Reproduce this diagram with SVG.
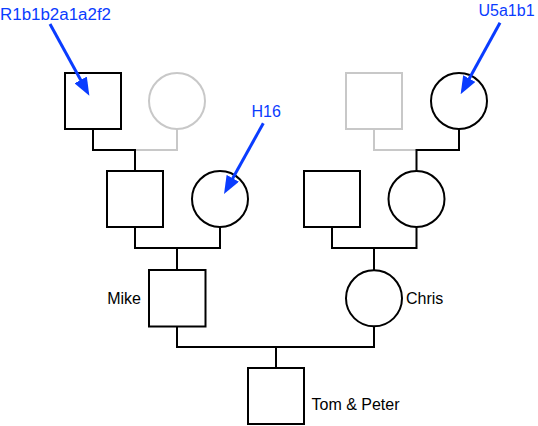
<svg xmlns="http://www.w3.org/2000/svg" width="538" height="426" viewBox="0 0 538 426">
<style>
.n{fill:#fff;stroke:#000;stroke-width:2}
.g{fill:#fff;stroke:#c8c8c8;stroke-width:2}
.c{fill:none;stroke:#000;stroke-width:2}
.cg{fill:none;stroke:#c8c8c8;stroke-width:2}
.lbl{font-family:"Liberation Sans",Arial,sans-serif;font-size:16px;fill:#000}
.hap{font-family:"Liberation Sans",Arial,sans-serif;font-size:16px;fill:#0a3cff}
.arr{stroke:#0a3cff;stroke-width:3;fill:none;marker-end:url(#ah)}
</style>
<defs>
<marker id="ah" viewBox="0 0 18 14" refX="10" refY="7" markerWidth="18" markerHeight="14" markerUnits="userSpaceOnUse" orient="auto">
<path d="M0,0 L18,7 L0,14 z" fill="#0a3cff"/>
</marker>
</defs>
<g id="connectors">
<path class="cg" d="M135 150 H177 V129"/>
<path class="c" d="M93 129 V150 H135 V171"/>
<path class="cg" d="M374 129 V150 H416.5"/>
<path class="c" d="M459 129 V150 H416.5 V171"/>
<path class="c" d="M135 227 V248 H220 V227 M177 248 V270"/>
<path class="c" d="M332 227 V248 H416.5 V227 M374 248 V270"/>
<path class="c" d="M177 326 V347 H374 V326 M276 347 V368"/>
</g>
<g id="ggf-paternal"><rect class="n" x="65" y="73" width="56" height="56"/></g>
<g id="ggm-paternal"><circle class="g" cx="177" cy="101" r="28"/></g>
<g id="ggf-maternal"><rect class="g" x="346" y="73" width="56" height="56"/></g>
<g id="ggm-maternal"><circle class="n" cx="459" cy="101" r="28"/></g>
<g id="gf-mike"><rect class="n" x="107" y="171" width="56" height="56"/></g>
<g id="gm-mike"><circle class="n" cx="220" cy="199" r="28"/></g>
<g id="gf-chris"><rect class="n" x="304" y="171" width="56" height="56"/></g>
<g id="gm-chris"><circle class="n" cx="416.5" cy="199" r="28"/></g>
<g id="mike"><rect class="n" x="149" y="270" width="56.5" height="56.5"/><text class="lbl" x="141" y="303.5" text-anchor="end">Mike</text></g>
<g id="chris"><circle class="n" cx="374" cy="298.3" r="28"/><text class="lbl" x="406" y="303.5">Chris</text></g>
<g id="tom-peter"><rect class="n" x="248" y="368" width="56" height="56"/><text class="lbl" x="311.5" y="409.5">Tom &amp; Peter</text></g>
<g id="haplogroups">
<text class="hap" x="0" y="19.5" textLength="111" lengthAdjust="spacingAndGlyphs">R1b1b2a1a2f2</text>
<line class="arr" x1="50" y1="24" x2="85.5" y2="88.7"/>
<text class="hap" x="251.5" y="116.5">H16</text>
<line class="arr" x1="263.3" y1="123.3" x2="227.9" y2="187"/>
<text class="hap" x="478.5" y="16">U5a1b1</text>
<line class="arr" x1="500" y1="22.7" x2="464.5" y2="87.3"/>
</g>
</svg>
